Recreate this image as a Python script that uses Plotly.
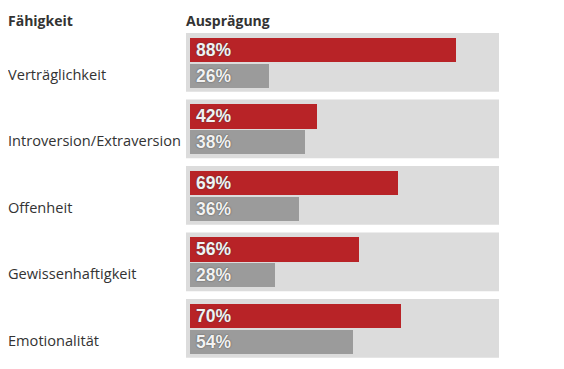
import plotly.graph_objects as go

categories = ["Verträglichkeit", "Introversion/Extraversion", "Offenheit",
              "Gewissenhaftigkeit", "Emotionalität"]
values_red = [88, 42, 69, 56, 70]
values_gray = [26, 38, 36, 28, 54]
header_left = "Fähigkeit"
header_right = "Ausprägung"

RED = "#b82327"
GRAY = "#9b9b9b"
BOX = "#dcdcdc"
TXT = "#333333"

# the page body has an 8px margin; figure coords = page coords - 8
OFF = 8
W, H = 564 - OFF, 369 - OFF
PX_X = 3.02
X0 = 190 - OFF
PX_Y = 66.5
Y0 = 62.3 - OFF

xr = [-X0 / PX_X, (W - X0) / PX_X]
yr = [(H - Y0) / PX_Y, -Y0 / PX_Y]

idx = list(range(len(categories)))
off_red = -12.5 / PX_Y
off_gray = 13.3 / PX_Y

fig = go.Figure()

for i in idx:
    fig.add_shape(type="rect", xref="x", yref="y",
                  x0=(186 - OFF - X0) / PX_X, x1=(499 - OFF - X0) / PX_X,
                  y0=i - 29.3 / PX_Y, y1=i + 29.4 / PX_Y,
                  fillcolor=BOX, line_width=0, layer="below")

fig.add_trace(go.Bar(
    y=[i + off_red for i in idx], x=values_red, orientation="h",
    width=24.6 / PX_Y, marker=dict(color=RED, line_width=0),
    hoverinfo="skip", showlegend=False))
fig.add_trace(go.Bar(
    y=[i + off_gray for i in idx], x=values_gray, orientation="h",
    width=24.2 / PX_Y, marker=dict(color=GRAY, line_width=0),
    hoverinfo="skip", showlegend=False))

label_font = dict(family="Liberation Sans, Arial, sans-serif", size=17.5,
                  color="#f2f2f2", weight="bold",
                  shadow="0px 0px 1.5px #3a3a3a")
for i in idx:
    fig.add_annotation(x=0, y=i + off_red, xref="x", yref="y",
                       text=f"{values_red[i]}%", showarrow=False,
                       xanchor="left", xshift=4, font=label_font)
    fig.add_annotation(x=0, y=i + off_gray, xref="x", yref="y",
                       text=f"{values_gray[i]}%", showarrow=False,
                       xanchor="left", xshift=4, font=label_font)
    fig.add_annotation(x=0, y=i + 11.5 / PX_Y, xref="paper", yref="y",
                       text=categories[i], showarrow=False,
                       xanchor="left", xshift=-2.5,
                       font=dict(family="Open Sans, sans-serif", size=14.6, color=TXT))

fig.add_annotation(x=0, y=-41.5 / PX_Y, xref="paper", yref="y",
                   text=header_left, showarrow=False, xanchor="left", xshift=-2.5,
                   font=dict(family="Open Sans, sans-serif", size=14, color=TXT, weight="bold"))
fig.add_annotation(x=(186 - OFF - X0) / PX_X, y=-41.5 / PX_Y, xref="x", yref="y",
                   text=header_right, showarrow=False, xanchor="left", xshift=-2,
                   font=dict(family="Open Sans, sans-serif", size=14, color=TXT, weight="bold"))

fig.update_layout(
    width=W, height=H, margin=dict(l=0, r=0, t=0, b=0),
    paper_bgcolor="white", plot_bgcolor="white",
    barmode="overlay", bargap=0,
    xaxis=dict(range=xr, visible=False, fixedrange=True),
    yaxis=dict(range=yr, visible=False, fixedrange=True),
)

fig.write_html("out.html", config={"displayModeBar": False})
